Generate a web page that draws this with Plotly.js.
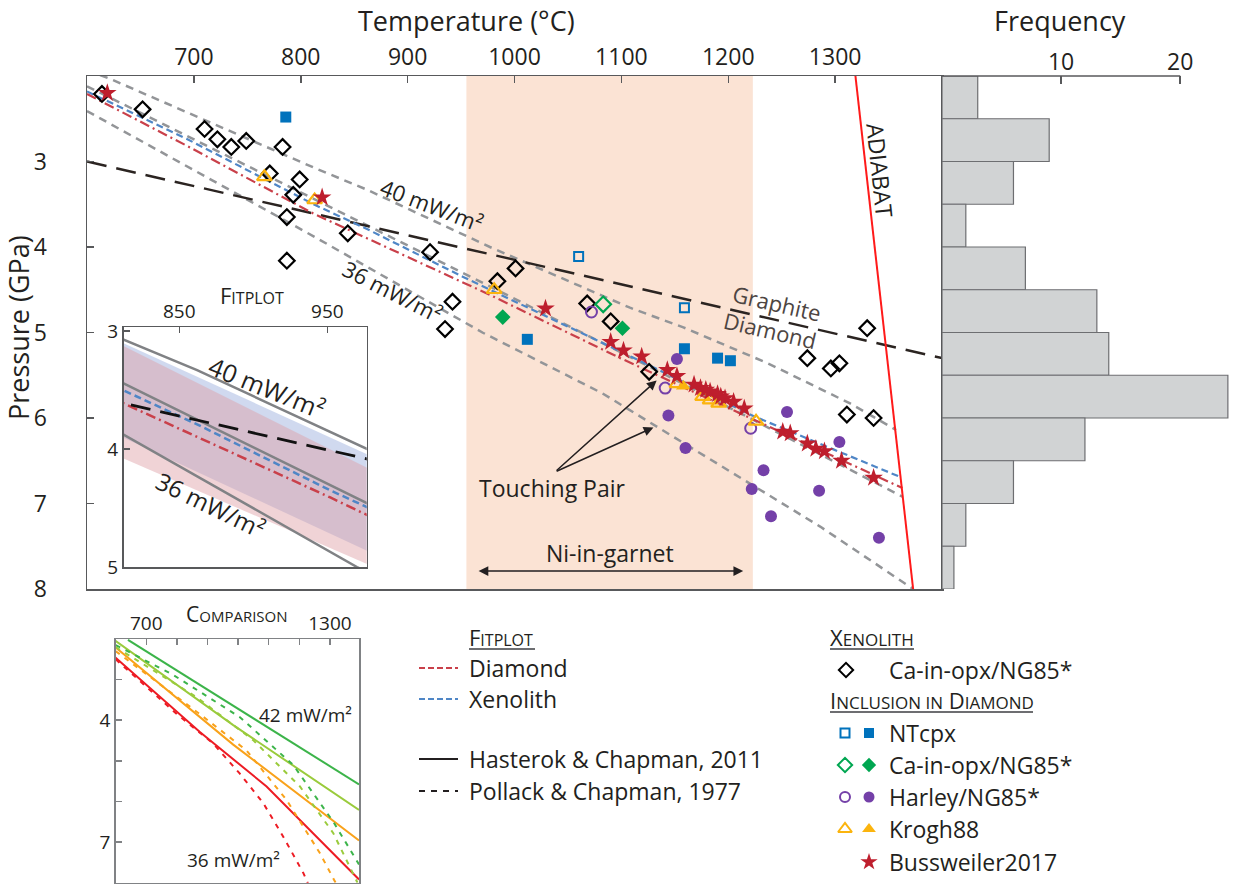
<!DOCTYPE html>
<html>
<head>
<meta charset="utf-8">
<script src="https://cdn.plot.ly/plotly-3.0.1.min.js"></script>
<style>
  html, body { margin: 0; padding: 0; background: #fff; }
  #chart { width: 1238px; height: 884px; }
</style>
</head>
<body>
<div id="chart"></div>
<script>
// ---------------- data ----------------
const tempTicks = [700, 800, 900, 1000, 1100, 1200, 1300];
const pressTicks = [3, 4, 5, 6, 7, 8];

// conductive geotherms, Hasterok & Chapman (T in °C, P in GPa)
const geo40T = [600, 621, 812, 862, 977, 1108, 1158, 1237, 1314, 1357];
const geo40P = [1.93, 2.03, 3.07, 3.33, 4.00, 4.71, 4.94, 5.36, 5.83, 6.14];
const geo38T = [600, 812, 977, 1150, 1363];
const geo38P = [2.12, 3.44, 4.46, 5.55, 6.92];
const geo36T = [600, 812, 970, 1082, 1286, 1373];
const geo36P = [2.41, 3.875, 5.00, 5.71, 7.27, 8.00];

// FITPLOT best-fit geotherms
const fitXenoT = [600, 694, 812, 862, 952, 977, 1099, 1224, 1299, 1361];
const fitXenoP = [2.18, 2.74, 3.50, 3.79, 4.35, 4.50, 5.22, 5.98, 6.37, 6.69];
const fitDiamT = [600, 694, 812, 952, 977, 1099, 1363];
const fitDiamP = [2.21, 2.82, 3.61, 4.41, 4.56, 5.30, 6.82];

// FITPLOT uncertainty envelopes (inset)
const bandT = [805, 985];
const bandXenoUpper = [3.06, 4.09];
const bandXenoLower = [3.86, 4.91];
const bandDiamUpper = [3.08, 4.21];
const bandDiamLower = [4.04, 5.02];

// graphite–diamond boundary and mantle adiabat
const graphiteT = [600, 1400];
const graphiteP = [3.0, 5.3];
const adiabatT = [1319, 1373];
const adiabatP = [2.0, 8.0];

// Ni-in-garnet calibration range (°C)
const niGarnetRange = [955, 1223];

// xenolith: Ca-in-opx / NG85*
const xenoT = [614, 652, 710, 722, 735, 749, 783, 771, 799, 793, 787, 844, 787, 921, 1001, 984, 942, 935, 1068, 1090, 1126, 1274, 1304, 1296, 1330, 1311, 1336];
const xenoP = [2.21, 2.39, 2.62, 2.74, 2.83, 2.76, 2.83, 3.14, 3.21, 3.39, 3.65, 3.84, 4.16, 4.06, 4.25, 4.40, 4.64, 4.96, 4.66, 4.87, 5.46, 5.30, 5.36, 5.42, 4.95, 5.96, 6.00];

// inclusions in diamond (open = first symbol, filled = second symbol)
const ntcpxOpenT = [1060, 1159];
const ntcpxOpenP = [4.11, 4.71];
const ntcpxFillT = [786, 1012, 1159, 1190, 1202];
const ntcpxFillP = [2.48, 5.08, 5.19, 5.30, 5.33];

const opxOpenT = [1083];
const opxOpenP = [4.67];
const opxFillT = [989, 1101];
const opxFillP = [4.82, 4.95];

const harleyOpenT = [1072, 1141, 1221];
const harleyOpenP = [4.76, 5.65, 6.12];
const harleyFillT = [1152, 1144, 1160, 1255, 1304, 1233, 1222, 1285, 1240, 1341];
const harleyFillP = [5.31, 5.97, 6.35, 5.93, 6.28, 6.61, 6.83, 6.85, 7.15, 7.40];

const kroghOpenT = [766, 813, 981, 1152, 1176, 1183, 1191, 1226];
const kroghOpenP = [3.18, 3.45, 4.50, 5.60, 5.75, 5.79, 5.83, 6.04];
const kroghFillT = [1158];
const kroghFillP = [5.63];

const bussT = [619, 820, 1029, 1090, 1102, 1119, 1143, 1152, 1168, 1174, 1179, 1183, 1190, 1193, 1197, 1205, 1215, 1251, 1258, 1274, 1282, 1290, 1306, 1336];
const bussP = [2.20, 3.42, 4.72, 5.11, 5.21, 5.28, 5.44, 5.51, 5.61, 5.65, 5.67, 5.69, 5.72, 5.75, 5.77, 5.81, 5.89, 6.16, 6.18, 6.30, 6.36, 6.39, 6.50, 6.70];

// pressure histogram (0.5 GPa bins from 2 to 8 GPa)
const histEdges = [2, 2.5, 3, 3.5, 4, 4.5, 5, 5.5, 6, 6.5, 7, 7.5, 8];
const histCounts = [3, 9, 6, 2, 7, 13, 14, 24, 12, 6, 2, 1];
const freqTicks = [10, 20];

// comparison panel: Hasterok & Chapman 2011 (solid) vs Pollack & Chapman 1977 (dashed)
const hc42T = [640, 1093, 1395];   const hc42P = [2.02, 4.15, 5.58];
const hc40T = [598, 984, 1395];    const hc40P = [2.04, 4.12, 6.21];
const hc38T = [598, 984, 1395];    const hc38P = [2.20, 4.60, 6.96];
const hc36T = [598, 875, 1093, 1395]; const hc36P = [2.45, 4.29, 5.63, 7.92];
const pc42T = [600, 787, 1005, 1180, 1311, 1395]; const pc42P = [2.15, 2.88, 3.92, 5.10, 6.50, 7.55];
const pc40T = [600, 864, 1049, 1202, 1311, 1390]; const pc40P = [2.20, 3.43, 4.49, 5.63, 6.78, 8.00];
const pc38T = [600, 875, 1027, 1158, 1267, 1322]; const pc38P = [2.30, 3.85, 4.74, 5.96, 7.27, 8.05];
const pc36T = [600, 800, 918, 1005, 1082, 1147, 1213, 1230]; const pc36P = [2.50, 3.85, 4.57, 5.31, 6.04, 6.86, 7.76, 8.05];
const cmpTempTicks = [700, 800, 900, 1000, 1100, 1200, 1300];
const cmpTempLabels = ['700', '', '', '', '', '', '1300'];
const cmpPressTicks = [3, 4, 5, 6, 7];
const cmpPressLabels = ['', '4', '', '', '7'];

// ---------------- page geometry & styles ----------------
const W = 1238, H = 884;
const px = v => v / W;
const py = v => 1 - v / H;
const MAIN = { l: 87, r: 942, t: 76, b: 589 };
const FIT = { l: 123.5, r: 366.7, t: 327, b: 567 };
const CMP = { l: 115.7, r: 359, t: 639, b: 882.7 };
const KEY = { l: 400, t: 620 };

const FONT = '"Open Sans", "Noto Sans", sans-serif';
const INK = '#231f20';
const AXIS = '#58595b';
const GEO_GRAY = '#939598';
const C_BLUE_FIT = '#4f86c6';
const C_RED_FIT = '#c9404a';
const C_NT = '#0072bc';
const C_OPX = '#00a651';
const C_HARLEY = '#7440a8';
const C_KROGH = '#fbb40e';
const C_BUSS = '#be1e2d';
const DASH_GEO = '8px,6px';
const DASH_XENO = '7px,4px';
const DASH_DIAM = '10px,4px,2px,4px';
const DASH_GRAPH = '20px,10px';

const traces = [];
function addLine(x, y, color, width, dash, xa, ya) {
  traces.push({ type: 'scatter', mode: 'lines', x, y, xaxis: xa || 'x', yaxis: ya || 'y',
    line: { color, width, dash: dash || 'solid' }, hoverinfo: 'skip', showlegend: false, cliponaxis: true });
}
function addPoints(x, y, symbol, color, size, lw, xa, ya) {
  traces.push({ type: 'scatter', mode: 'markers', x, y, xaxis: xa || 'x', yaxis: ya || 'y',
    marker: { symbol, color, size, line: { color, width: lw } }, hoverinfo: 'skip', showlegend: false, cliponaxis: false });
}
function addBand(t, upper, lower, fill, xa, ya) {
  traces.push({ type: 'scatter', mode: 'lines', xaxis: xa, yaxis: ya,
    x: t.concat(t.slice().reverse()), y: upper.concat(lower.slice().reverse()),
    fill: 'toself', fillcolor: fill, line: { width: 0 }, hoverinfo: 'skip', showlegend: false });
}

// ---------------- main P–T panel ----------------
addLine(geo40T, geo40P, GEO_GRAY, 2.5, DASH_GEO);
addLine(geo38T, geo38P, GEO_GRAY, 2.5, DASH_GEO);
addLine(geo36T, geo36P, GEO_GRAY, 2.5, DASH_GEO);
addLine(graphiteT, graphiteP, '#2b2421', 2.5, DASH_GRAPH);
addLine(fitXenoT, fitXenoP, C_BLUE_FIT, 2.2, DASH_XENO);
addLine(fitDiamT, fitDiamP, C_RED_FIT, 2.2, DASH_DIAM);
addLine(adiabatT, adiabatP, '#ff1a1a', 2);

addPoints(xenoT, xenoP, 'diamond-open', '#000000', 12, 2.2);
addPoints(ntcpxOpenT, ntcpxOpenP, 'square-open', C_NT, 9, 2);
addPoints(ntcpxFillT, ntcpxFillP, 'square', C_NT, 11, 0);
addPoints(opxOpenT, opxOpenP, 'diamond-open', C_OPX, 12, 2.2);
addPoints(opxFillT, opxFillP, 'diamond', C_OPX, 12, 0);
addPoints(harleyOpenT, harleyOpenP, 'circle-open', C_HARLEY, 11, 2);
addPoints(harleyFillT, harleyFillP, 'circle', C_HARLEY, 12, 0);
addPoints(kroghOpenT, kroghOpenP, 'triangle-up-open', C_KROGH, 13, 2.2);
addPoints(kroghFillT, kroghFillP, 'triangle-up', C_KROGH, 13, 0);
addPoints(bussT, bussP, 'star', C_BUSS, 14, 0);

// ---------------- FITPLOT inset ----------------
addBand(bandT, bandXenoUpper, bandXenoLower, 'rgba(170,185,225,0.55)', 'x2', 'y2');
addBand(bandT, bandDiamUpper, bandDiamLower, 'rgba(222,158,165,0.45)', 'x2', 'y2');
addLine(geo40T, geo40P, '#808285', 2.5, 'solid', 'x2', 'y2');
addLine(geo38T, geo38P, '#808285', 2.5, 'solid', 'x2', 'y2');
addLine(geo36T, geo36P, '#808285', 2.5, 'solid', 'x2', 'y2');
addLine(fitXenoT, fitXenoP, C_BLUE_FIT, 2.5, DASH_XENO, 'x2', 'y2');
addLine(fitDiamT, fitDiamP, C_RED_FIT, 2.5, DASH_DIAM, 'x2', 'y2');
addLine(graphiteT, graphiteP, '#111111', 2.8, DASH_GRAPH, 'x2', 'y2');

// ---------------- frequency histogram ----------------
const histCenters = histCounts.map((_, i) => (histEdges[i] + histEdges[i + 1]) / 2);
const histWidths = histCounts.map((_, i) => histEdges[i + 1] - histEdges[i]);
traces.push({ type: 'bar', orientation: 'h', x: histCounts, y: histCenters, width: histWidths,
  xaxis: 'x3', yaxis: 'y3', marker: { color: '#d1d3d4', line: { color: '#6d6e71', width: 1.2 } },
  hoverinfo: 'skip', showlegend: false });

// ---------------- comparison panel ----------------
const C42 = '#3cb44a', C40 = '#9acb3c', C38 = '#f9a21b', C36 = '#ed1c24';
addLine(hc42T, hc42P, C42, 2, 'solid', 'x4', 'y4');
addLine(hc40T, hc40P, C40, 2, 'solid', 'x4', 'y4');
addLine(hc38T, hc38P, C38, 2, 'solid', 'x4', 'y4');
addLine(hc36T, hc36P, C36, 2, 'solid', 'x4', 'y4');
addLine(pc42T, pc42P, C42, 2, '5px,6px', 'x4', 'y4');
addLine(pc40T, pc40P, C40, 2, '5px,6px', 'x4', 'y4');
addLine(pc38T, pc38P, C38, 2, '5px,6px', 'x4', 'y4');
addLine(pc36T, pc36P, C36, 2, '5px,6px', 'x4', 'y4');

// ---------------- key (drawn on a pixel-scaled helper axis) ----------------
const keyLineX = [419, 458];
const keyLines = [
  { y: 668, color: C_RED_FIT, dash: '6px,3px' },
  { y: 699, color: C_BLUE_FIT, dash: '6px,3px' },
  { y: 759, color: INK, dash: 'solid' },
  { y: 791, color: INK, dash: '6px,6px' }
];
keyLines.forEach(k => addLine(keyLineX, [k.y, k.y], k.color, 2, k.dash, 'x5', 'y5'));
const keyOpenX = 845, keyFillX = 869;
addPoints([846], [670], 'diamond-open', '#000000', 11, 2, 'x5', 'y5');
addPoints([keyOpenX], [733], 'square-open', C_NT, 9, 2, 'x5', 'y5');
addPoints([keyFillX], [733], 'square', C_NT, 10, 0, 'x5', 'y5');
addPoints([keyOpenX], [765], 'diamond-open', C_OPX, 11, 2, 'x5', 'y5');
addPoints([keyFillX], [765], 'diamond', C_OPX, 11, 0, 'x5', 'y5');
addPoints([keyOpenX], [797], 'circle-open', C_HARLEY, 10, 2, 'x5', 'y5');
addPoints([keyFillX], [797], 'circle', C_HARLEY, 11, 0, 'x5', 'y5');
addPoints([keyOpenX], [829], 'triangle-up-open', C_KROGH, 12, 2, 'x5', 'y5');
addPoints([keyFillX], [829], 'triangle-up', C_KROGH, 12, 0, 'x5', 'y5');
addPoints([keyFillX], [862], 'star', C_BUSS, 13, 0, 'x5', 'y5');

// ---------------- annotations ----------------
const ann = [];
function txt(text, x, y, size, opts) {
  ann.push(Object.assign({ text, x, y, xref: 'paper', yref: 'paper', showarrow: false,
    xanchor: 'center', yanchor: 'middle', font: { family: FONT, size, color: INK } }, opts || {}));
}
// axis titles
txt('Temperature (°C)', px(466), py(20), 27);
txt('Frequency', px(1060), py(20), 27);
txt('Pressure (GPa)', px(18), py(328), 27, { textangle: -90 });

// main-panel labels
const dataTxt = (text, x, y, size, angle, color, ax, ay) =>
  txt(text, x, y, size, { xref: ax || 'x', yref: ay || 'y', textangle: angle, font: { family: FONT, size, color: color || INK } });
dataTxt('40 mW/m²', 923, 3.51, 22, 21);
dataTxt('36 mW/m²', 886, 4.51, 22, 27);
dataTxt('Graphite', 1246, 4.66, 22, 13, '#4d4542');
dataTxt('Diamond', 1239, 4.97, 22, 13, '#4d4542');
dataTxt('ADIABAT', 1342, 3.10, 23, 84);
dataTxt('Touching Pair', 1036, 6.82, 23, 0);
dataTxt('Ni-in-garnet', 1089, 7.58, 23, 0);

// arrows: touching pair and Ni-in-garnet range
const touchingTail = [1038, 6.63];
const touchingTips = [[1133, 5.56], [1130, 6.11]];
touchingTips.forEach(t => ann.push({ x: t[0], y: t[1], ax: touchingTail[0], ay: touchingTail[1],
  xref: 'x', yref: 'y', axref: 'x', ayref: 'y', text: '', showarrow: true,
  arrowhead: 2, arrowsize: 1.3, arrowwidth: 1.5, arrowcolor: INK }));
ann.push({ x: niGarnetRange[1] - 9, y: 7.79, ax: niGarnetRange[0] + 10, ay: 7.79,
  xref: 'x', yref: 'y', axref: 'x', ayref: 'y', text: '', showarrow: true,
  arrowhead: 2, startarrowhead: 2, arrowside: 'end+start', arrowsize: 1.3, startarrowsize: 1.3,
  arrowwidth: 1.5, arrowcolor: INK });

// inset labels
txt('F<span style="font-size:16px">ITPLOT</span>', px(252), py(295), 22);
dataTxt('40 mW/m²', 909, 3.47, 25, 22, INK, 'x2', 'y2');
dataTxt('36 mW/m²', 871, 4.47, 24, 26, INK, 'x2', 'y2');

// comparison labels
txt('C<span style="font-size:15px">OMPARISON</span>', px(237), py(614), 21);
dataTxt('42 mW/m²', 1221, 3.88, 19, 0, INK, 'x4', 'y4');
dataTxt('36 mW/m²', 986, 7.43, 19, 0, INK, 'x4', 'y4');

// key texts
const keyTxt = (text, x, y, size) => ann.push({ text, x, y, xref: 'x5', yref: 'y5', showarrow: false,
  xanchor: 'left', yanchor: 'middle', font: { family: FONT, size: size || 23, color: INK } });
keyTxt('F<span style="font-size:16px">ITPLOT</span>', 467, 637, 22);
keyTxt('Diamond', 467, 668);
keyTxt('Xenolith', 467, 699);
keyTxt('Hasterok & Chapman, 2011', 467, 759);
keyTxt('Pollack & Chapman, 1977', 467, 791);
keyTxt('X<span style="font-size:17px">ENOLITH</span>', 828, 637, 22);
keyTxt('Ca-in-opx/NG85*', 887, 670);
keyTxt('I<span style="font-size:17px">NCLUSION IN</span> D<span style="font-size:17px">IAMOND</span>', 828, 700, 22);
keyTxt('NTcpx', 887, 733);
keyTxt('Ca-in-opx/NG85*', 887, 765);
keyTxt('Harley/NG85*', 887, 797);
keyTxt('Krogh88', 887, 829);
keyTxt('Bussweiler2017', 887, 862);

// ---------------- shapes ----------------
const shapes = [
  { type: 'rect', xref: 'x', yref: 'paper', x0: niGarnetRange[0], x1: niGarnetRange[1],
    y0: py(MAIN.b), y1: py(MAIN.t), fillcolor: '#fbe3d4', line: { width: 0 }, layer: 'below' },
  { type: 'line', xref: 'x3', yref: 'paper', x0: 0, x1: freqTicks[freqTicks.length - 1],
    y0: py(MAIN.t), y1: py(MAIN.t), line: { color: AXIS, width: 1.5 } },
  // key header underlines
  { type: 'line', xref: 'paper', yref: 'paper', x0: px(469), x1: px(535), y0: py(649), y1: py(649), line: { color: '#6d6e71', width: 2 } },
  { type: 'line', xref: 'paper', yref: 'paper', x0: px(830), x1: px(914), y0: py(649), y1: py(649), line: { color: '#6d6e71', width: 2 } },
  { type: 'line', xref: 'paper', yref: 'paper', x0: px(830), x1: px(1033), y0: py(712), y1: py(712), line: { color: '#6d6e71', width: 2 } }
];

// ---------------- axes ----------------
const baseAxis = { showgrid: false, zeroline: false, showline: true, linecolor: AXIS, linewidth: 1.5,
  ticks: 'inside', tickcolor: AXIS, tickwidth: 1.5, fixedrange: true };

const layout = {
  width: W, height: H,
  margin: { l: 0, r: 0, t: 0, b: 0 },
  paper_bgcolor: '#ffffff', plot_bgcolor: '#ffffff',
  font: { family: FONT, color: INK },
  showlegend: false,
  xaxis: Object.assign({}, baseAxis, { domain: [px(MAIN.l), px(MAIN.r)], range: [600, 1400], side: 'top', anchor: 'y',
    tickvals: tempTicks, ticklen: 7, mirror: true, tickfont: { size: 23, color: INK }, ticklabelstandoff: 0 }),
  yaxis: Object.assign({}, baseAxis, { domain: [py(MAIN.b), py(MAIN.t)], range: [8, 2], anchor: 'x',
    tickvals: pressTicks, ticklen: 7, mirror: true, tickfont: { size: 23, color: INK }, ticklabelstandoff: 34 }),
  xaxis2: Object.assign({}, baseAxis, { domain: [px(FIT.l), px(FIT.r)], range: [812.3, 976.6], side: 'top', anchor: 'y2',
    tickvals: [850, 950], ticklen: 6, mirror: true, tickfont: { size: 19, color: INK } }),
  yaxis2: Object.assign({}, baseAxis, { domain: [py(FIT.b), py(FIT.t)], range: [5.0, 2.964], anchor: 'x2',
    tickvals: [3, 4, 5], ticklen: 6, mirror: true, tickfont: { size: 19, color: INK } }),
  xaxis3: Object.assign({}, baseAxis, { domain: [px(MAIN.r), 1], range: [0, 24.85], side: 'top', anchor: 'y3',
    tickvals: freqTicks, ticklen: 8, showline: false, tickfont: { size: 23, color: INK }, ticklabelstandoff: 0 }),
  yaxis3: Object.assign({}, baseAxis, { domain: [py(MAIN.b), py(MAIN.t)], range: [8, 2], anchor: 'x3',
    showticklabels: false, ticks: '' }),
  xaxis4: Object.assign({}, baseAxis, { domain: [px(CMP.l), px(CMP.r)], range: [600, 1395], side: 'top', anchor: 'y4',
    tickvals: cmpTempTicks, ticktext: cmpTempLabels, ticklen: 6, mirror: true, linecolor: '#808285', tickcolor: '#808285',
    tickfont: { size: 19, color: INK } }),
  yaxis4: Object.assign({}, baseAxis, { domain: [py(CMP.b), py(CMP.t)], range: [8, 2], anchor: 'x4',
    tickvals: cmpPressTicks, ticktext: cmpPressLabels, ticklen: 6, mirror: true, linecolor: '#808285', tickcolor: '#808285',
    tickfont: { size: 19, color: INK } }),
  xaxis5: { domain: [px(KEY.l), 1], range: [KEY.l, W], visible: false, fixedrange: true, anchor: 'y5' },
  yaxis5: { domain: [0, py(KEY.t)], range: [H, KEY.t], visible: false, fixedrange: true, anchor: 'x5' },
  annotations: ann,
  shapes: shapes
};

Plotly.newPlot('chart', traces, layout, { staticPlot: true, displayModeBar: false });
</script>
</body>
</html>
